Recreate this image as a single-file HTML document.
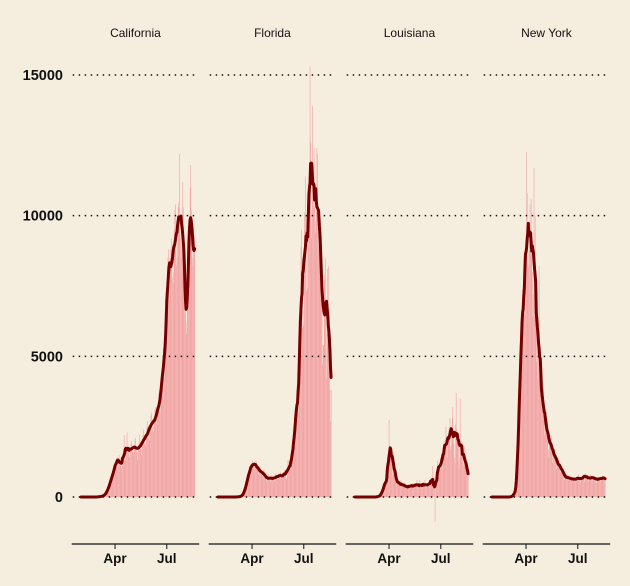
<!DOCTYPE html>
<html><head><meta charset="utf-8"><style>
html,body{margin:0;padding:0;background:#f5eede;}
svg{display:block;font-family:"Liberation Sans",sans-serif;}
</style></head><body>
<svg id="chart" width="630" height="586">
<rect width="630" height="586" fill="#f5eede"/>
</svg>
<script>
const states = ["California","Florida","Louisiana","New York"];
const yTicks = [0,5000,10000,15000];
const yTickLabels = ["0","5000","10000","15000"];
const xTickDays = [91,182];
const xTickLabels = ["Apr","Jul"];
const firstDay = 31; // Feb 1 (day index, Jan 1 = 0)
const febZeros = [0,0,0,0,0,0,0,0,0,0,0,0,0,0,0,0,0,0,0,0,0,0,0,0,0,0,0,0,0];
const caDaily = febZeros.concat([
2,5,8,10,12,15,20, 20,25,30,40,50,60,70, 90,120,150,200,250,300,350, 400,450,550,600,700,750,800,
850,900,1000,1100,1200,1300,1400, 1200,1100,1400,1500,1300,1200,1100, 1000,1100,1300,1400,1500,2200,1300,
1300,1500,1800,2300,1700,1800,1600, 1400,1500,1700,1900,2000,1800,1600, 1500,1600,1800,2000,2100,1800,1600,
1300,1600,1800,1900,2200,1800,1700, 1500,1700,2000,2200,2400,2100,1900, 1800,1900,2200,2500,2700,2300,2100,
2000,2300,2600,2900,3000,2600,2400, 2300,2500,2800,3100,3200,2700,2600, 2800,2900,3300,3700,3800,3200,3000,
3500,3800,4500,5000,5300,4700,4200, 4800,5500,6000,7000,8200,8500,8800, 7000,7500,8500,8800,9200,8500,7800,
7600,8000,9500,10200,10400,9000,8200, 8500,9000,10300,10500,12200,10000,9200, 8500,8800,10000,11200,10300,9000,7600,
6500,6800,6200,5800,6800,7000,8000, 9000,10000,11000,11800,10200,9000,8500, 8200,8800,9000,9300]);
const flDaily = febZeros.concat([
0,0,1,2,2,4,5, 5,8,10,15,20,30,40, 50,70,100,150,200,300,400, 400,500,600,700,800,900,1000,
1000,900,1100,1200,1300,1100,1200, 1200,1000,1100,1300,1200,1100,1000, 900,800,1000,1100,1000,900,800,
800,700,900,1000,850,750,700, 600,550,700,800,750,650,600, 600,550,750,800,700,650,600,
550,600,800,850,750,700,650, 650,700,800,850,900,750,700, 650,700,750,800,900,1000,900,
700,650,800,1300,900,1300,1100, 1000,950,1100,1400,1700,1900,2000, 2000,1800,2800,2600,3200,3800,4000,
3500,3000,3300,5500,5000,8900,9500, 8500,6000,6100,6600,10100,9500,11400, 10000,7300,7400,9200,9000,11400,10400,
15300,12600,9200,10200,13900,11500,10300, 12400,10300,9400,9800,10200,12400,12200, 9300,8900,9200,9400,9900,9600,9600,
7000,4700,5400,5400,7900,7700,8500, 6200,4200,5800,8100,8200,6100,6700, 3800,2700,3800]);
const laDaily = febZeros.concat([
0,0,0,0,0,0,0, 0,1,5,6,7,14,18, 30,50,60,80,100,200,250, 300,350,400,500,600,700,500,
600,500,1200,2740,1800,1500,1800, 1500,1700,800,1300,1600,1100,900, 700,600,500,700,600,500,450,
400,500,450,600,400,350,500, 400,350,450,500,400,300,350, 350,300,450,400,350,450,300,
400,350,500,450,400,300,350, 400,500,450,600,400,350,300, 350,600,450,350,500,400,300,
400,450,500,600,450,300,350, 400,450,500,550,500,400,450, 450,500,1100,600,550,700,450,
-880,500,600,900,1300,1000,800, 900,1100,1400,1000,1500,1200,1000, 1400,1700,2000,1800,1600,2500,1900,
1400,1800,2200,2400,2300,2800,1700, 1800,2400,2800,3200,2100,1900,1400, 1200,2600,3700,2400,2200,1900,1800,
1000,1400,3500,1700,1600,2000,1500, 1200,1100,1500,1800,1500,1400,900, 700,800,900]);
const nyDaily = febZeros.concat([
0,0,1,0,0,20,30, 20,40,50,100,150,200,250, 300,500,1000,1800,2900,3300,3500, 4800,5500,5000,6000,7400,7000,7800,
7200,6500,8000,7900,12270,10800,8300, 8200,8700,9400,10400,9500,10600,9100, 8000,6400,7200,11700,8500,10000,7000,
6000,4800,5500,4200,6400,8200,5600, 3600,3500,3300,3900,3100,4100,3900, 2700,2200,2400,2800,2800,2800,2700,
1700,1400,2000,2200,1900,2200,2100, 1500,1200,1500,1600,1700,1700,1500, 1200,1000,1100,1400,1300,1300,1100,
900,900,1000,1100,1000,1000,900, 700,600,700,800,700,800,700, 600,600,700,700,700,700,650,
600,550,600,700,700,650,650, 600,550,600,700,800,750,700, 550,500,600,700,750,800,750,
600,550,800,850,800,750,700, 600,550,650,700,800,750,700, 550,600,700,750,750,700,700,
500,500,700,650,700,700,650, 550,550,700,700,750,700,650, 600,650,700]);
const seriesList = [caDaily, flDaily, laDaily, nyDaily];

const NS = "http://www.w3.org/2000/svg";
const svg = document.getElementById("chart");
const panelLeft0 = 71.7, panelW = 127.5, panelStep = 137;
const dayMin = 14.8, dayMax = 239;
const yBase = 497, yTopPx = 75, yMaxVal = 15000;
function yScale(v){ return yBase - v*(yBase-yTopPx)/yMaxVal; }
function xScale(p, d){ const l = panelLeft0 + p*panelStep; return l + (d-dayMin)*panelW/(dayMax-dayMin); }
function mk(tag, attrs){ const e=document.createElementNS(NS,tag); for(const k in attrs) e.setAttribute(k,attrs[k]); return e; }

yTicks.forEach((t,i)=>{
  const tx = mk("text",{x:63,y:yScale(t)+5,"text-anchor":"end","font-size":"14.5","font-weight":"bold",fill:"#111"});
  tx.textContent = yTickLabels[i];
  
  
  svg.appendChild(tx);
});

states.forEach((st,p)=>{
  const g = mk("g",{});
  
  
  svg.appendChild(g);
  const l = panelLeft0 + p*panelStep;
  const ti = mk("text",{x:l+panelW/2,y:37,"text-anchor":"middle","font-size":"12",fill:"#111"});
  ti.textContent = st;
  
  
  g.appendChild(ti);
  const data = seriesList[p];
  const dw = panelW/(dayMax-dayMin);
  data.forEach((v,i)=>{
    if(v===0) return;
    const d = firstDay + i;
    const x = xScale(p,d) - dw/2;
    const y0 = yScale(Math.max(v,0)), y1 = yScale(Math.min(v,0));
    const b = mk("rect",{x:x,y:y0,width:dw+0.08,height:Math.max(y1-y0,0.1),fill:"#f2a7a7"});
    
    
    g.appendChild(b);
  });
  yTicks.forEach(t=>{
    const gl = mk("line",{x1:l+1,x2:l+panelW-1,y1:yScale(t),y2:yScale(t),stroke:"#111","stroke-width":"1.5","stroke-dasharray":"1.5 4.5"});
    
    
    g.appendChild(gl);
  });
  const pts = data.map((v,i)=>{
    let s=0,n=0;
    for(let k=i-3;k<=i+3;k++){ if(k>=0 && k<data.length){ s+=data[k]; n++; } }
    return xScale(p, firstDay+i).toFixed(2)+","+yScale(s/n).toFixed(2);
  });
  const line = mk("polyline",{points:pts.join(" "),fill:"none",stroke:"#760000","stroke-width":"3","stroke-linejoin":"round","stroke-linecap":"round"});
  
  
  g.appendChild(line);
  const ax = mk("line",{x1:l,x2:l+panelW,y1:544,y2:544,stroke:"#111","stroke-width":"1.3"});
  
  
  g.appendChild(ax);
  xTickDays.forEach((d,i)=>{
    const x = xScale(p,d);
    const tk = mk("line",{x1:x,x2:x,y1:544,y2:549,stroke:"#111","stroke-width":"1"});
    
    
    g.appendChild(tk);
    const tl = mk("text",{x:x,y:563,"text-anchor":"middle","font-size":"13.5","font-weight":"bold",fill:"#111"});
    tl.textContent = xTickLabels[i];
    
    
    g.appendChild(tl);
  });
});
</script>
</body></html>
